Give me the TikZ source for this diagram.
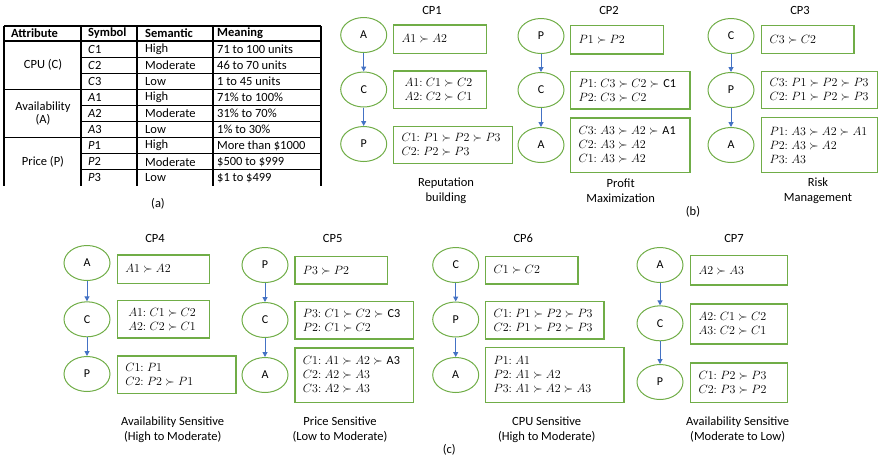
\documentclass[tikz,border=0pt]{standalone}
\usepackage{fontspec}
\setmainfont{Carlito}
\usetikzlibrary{shapes.geometric,arrows.meta}
\definecolor{gr}{HTML}{70AD47}
\definecolor{bl}{HTML}{4472C4}
\tikzset{
 ell/.style={ellipse,draw=gr,line width=1pt,minimum width=46pt,minimum height=35pt,inner sep=0pt,font=\fontsize{12}{14}\selectfont},
 cpbox/.style={draw=gr,line width=1.2pt,inner xsep=8pt,inner ysep=0pt,align=left,font=\fontsize{12.2}{14}\selectfont},
 arr/.style={draw=bl,line width=1pt,-{Triangle[length=5pt,width=5pt]}},
 ttl/.style={font=\fontsize{12.5}{14}\selectfont,inner sep=0pt},
 captxt/.style={font=\fontsize{12.5}{15}\selectfont,align=center,inner sep=0pt},
 tb/.style={font=\fontsize{12.5}{14}\selectfont,anchor=west,inner sep=0pt},
 tbc/.style={font=\fontsize{12.5}{12.5}\selectfont,align=center,inner sep=0pt},
 thick line/.style={line width=1.6pt},
 thin line/.style={line width=0.9pt}
}
\newcommand\cpb[6]{\pgfmathsetmacro\bw{#4-#2-16}\pgfmathsetmacro\bh{#5-#3}\node[cpbox,text width=\bw pt,minimum height=\bh pt,anchor=north west] (#1) at (#2,#3) {#6};}
\newcommand\pr[2]{$#1{:}\;#2$}
\begin{document}
\begin{tikzpicture}[x=1pt,y=-1pt]
\useasboundingbox (0,0) rectangle (878,459);
% ---------- table (a)
\foreach \x in {4,81,137,213,320.7} \draw[thick line] (\x,26) -- (\x,186);
\draw[thick line] (4,26) -- (320.7,26);
\draw[thick line] (4,41) -- (320.7,41);
\draw[thin line] (4,89.3) -- (320.7,89.3);
\draw[thin line] (4,137.6) -- (320.7,137.6);
\foreach \y in {57.1,73.2,105.4,121.5,153.7,169.8} \draw[thin line] (81,\y) -- (320.7,\y);
\node[tb] (h1) at (11,33.5) {\bfseries Attribute};
\node[tb] (h2) at (88,33.5) {\bfseries Symbol};
\node[tb] (h3) at (145,33.5) {\bfseries Semantic};
\node[tb] (h4) at (217,33.5) {\bfseries Meaning};
\node[tbc] (g1) at (43,65.15) {CPU (C)};
\node[tbc] (g2) at (43,113.6) {Availability\\(A)};
\node[tbc] (g3) at (43,161.75) {Price (P)};
\node[tb] (s1) at (88,49.05) {\textit{C}1};
\node[tb] (s2) at (88,65.15) {\textit{C}2};
\node[tb] (s3) at (88,81.25) {\textit{C}3};
\node[tb] (s4) at (88,97.35) {\textit{A}1};
\node[tb] (s5) at (88,113.45) {\textit{A}2};
\node[tb] (s6) at (88,129.55) {\textit{A}3};
\node[tb] (s7) at (88,145.65) {\textit{P}1};
\node[tb] (s8) at (88,161.75) {\textit{P}2};
\node[tb] (s9) at (88,177.85) {\textit{P}3};
\node[tb] (e1) at (145,49.05) {High};
\node[tb] (e2) at (145,65.15) {Moderate};
\node[tb] (e3) at (145,81.25) {Low};
\node[tb] (e4) at (145,97.35) {High};
\node[tb] (e5) at (145,113.45) {Moderate};
\node[tb] (e6) at (145,129.55) {Low};
\node[tb] (e7) at (145,145.65) {High};
\node[tb] (e8) at (145,161.75) {Moderate};
\node[tb] (e9) at (145,177.85) {Low};
\node[tb] (m1) at (217,49.05) {71 to 100 units};
\node[tb] (m2) at (217,65.15) {46 to 70 units};
\node[tb] (m3) at (217,81.25) {1 to 45 units};
\node[tb] (m4) at (217,97.35) {71\% to 100\%};
\node[tb] (m5) at (217,113.45) {31\% to 70\%};
\node[tb] (m6) at (217,129.55) {1\% to 30\%};
\node[tb] (m7) at (217,145.65) {More than \$1000};
\node[tb] (m8) at (217,161.75) {\$500 to \$999};
\node[tb] (m9) at (217,177.85) {\$1 to \$499};
\node[ttl] (la) at (158,203.3) {(a)};
% ---------- CP1
\node[ttl] (t1) at (432,10) {CP1};
\node[ell] (a1) at (363.7,35) {A};
\node[ell] (c1) at (363.7,89.5) {C};
\node[ell] (p1) at (363.7,144) {P};
\draw[arr] (a1) -- (c1);
\draw[arr] (c1) -- (p1);
\cpb{b11}{393}{24.3}{485.7}{52.7}{$A1 \succ A2$}
\cpb{b12}{393}{70.3}{485.7}{107.7}{\hspace*{3pt}\pr{A1}{C1 \succ C2}\\\hspace*{3pt}\pr{A2}{C2 \succ C1}}
\cpb{b13}{393}{125.7}{511.7}{162.7}{\pr{C1}{P1 \succ P2 \succ P3}\\\pr{C2}{P2 \succ P3}}
\node[captxt] (k1) at (446,190.5) {Reputation\\building};
% ---------- CP2
\node[ttl] (t2) at (609,10) {CP2};
\node[ell] (p2) at (541,36) {P};
\node[ell] (c2) at (541,90) {C};
\node[ell] (a2) at (541,145) {A};
\draw[arr] (p2) -- (c2);
\draw[arr] (c2) -- (a2);
\cpb{b21}{570}{25}{662.7}{53.3}{$P1 \succ P2$}
\cpb{b22}{570}{71}{689.3}{108.3}{\pr{P1}{C3 \succ C2 \succ} C1\\\pr{P2}{C3 \succ C2}}
\cpb{b23}{570}{117.3}{689.3}{171.7}{\pr{C3}{A3 \succ A2 \succ} A1\\\pr{C2}{A3 \succ A2}\\\pr{C1}{A3 \succ A2}}
\node[captxt] (k2) at (620.7,190.5) {Profit\\Maximization};
% ---------- CP3
\node[ttl] (t3) at (800,10) {CP3};
\node[ell] (c3) at (731,36) {C};
\node[ell] (p3) at (731,90) {P};
\node[ell] (a3) at (731,145) {A};
\draw[arr] (c3) -- (p3);
\draw[arr] (p3) -- (a3);
\cpb{b31}{761}{25}{853.3}{53}{$C3 \succ C2$}
\cpb{b32}{761}{71}{877.3}{108}{\pr{C3}{P1 \succ P2 \succ P3}\\\pr{C2}{P1 \succ P2 \succ P3}}
\cpb{b33}{761}{117}{877.3}{171.7}{\pr{P1}{A3 \succ A2 \succ A1}\\\pr{P2}{A3 \succ A2}\\\pr{P3}{A3}}
\node[captxt] (k3) at (818,190.5) {Risk\\Management};
\node[ttl] (lb) at (693,211.7) {(b)};
% ---------- CP4
\node[ttl] (t4) at (155,238.3) {CP4};
\node[ell] (a4) at (87,263) {A};
\node[ell] (c4) at (87,319.3) {C};
\node[ell] (p4) at (87,374) {P};
\draw[arr] (a4) -- (c4);
\draw[arr] (c4) -- (p4);
\cpb{b41}{116.7}{254.3}{209}{282.7}{$A1 \succ A2$}
\cpb{b42}{116.7}{300}{209}{337.3}{\hspace*{3pt}\pr{A1}{C1 \succ C2}\\\hspace*{3pt}\pr{A2}{C2 \succ C1}}
\cpb{b43}{116.7}{355.3}{235.3}{392.7}{\pr{C1}{P1}\\\pr{C2}{P2 \succ P1}}
\node[captxt] (k4) at (172.7,429.5) {Availability Sensitive\\(High to Moderate)};
% ---------- CP5
\node[ttl] (t5) at (332.7,238.3) {CP5};
\node[ell] (p5) at (265,265) {P};
\node[ell] (c5) at (265,320) {C};
\node[ell] (a5) at (265,375) {A};
\draw[arr] (p5) -- (c5);
\draw[arr] (c5) -- (a5);
\cpb{b51}{294.3}{256}{386.7}{283.3}{$P3 \succ P2$}
\cpb{b52}{294.3}{301}{412.7}{338.3}{\pr{P3}{C1 \succ C2 \succ} C3\\\pr{P2}{C1 \succ C2}}
\cpb{b53}{294.3}{347.3}{412.7}{401.7}{\pr{C1}{A1 \succ A2 \succ} A3\\\pr{C2}{A2 \succ A3}\\\pr{C3}{A2 \succ A3}}
\node[captxt] (k5) at (340,429.5) {Price Sensitive\\(Low to Moderate)};
% ---------- CP6
\node[ttl] (t6) at (523.3,238.3) {CP6};
\node[ell] (c6) at (455.7,265) {C};
\node[ell] (p6) at (455.7,319.5) {P};
\node[ell] (a6) at (455.7,375) {A};
\draw[arr] (c6) -- (p6);
\draw[arr] (p6) -- (a6);
\cpb{b61}{485}{255.7}{577.3}{283.3}{$C1 \succ C2$}
\cpb{b62}{485}{301}{603.3}{338.3}{\pr{C1}{P1 \succ P2 \succ P3}\\\pr{C2}{P1 \succ P2 \succ P3}}
\cpb{b63}{485}{347}{623.3}{401.7}{\pr{P1}{A1}\\\pr{P2}{A1 \succ A2}\\\pr{P3}{A1 \succ A2 \succ A3}}
\node[captxt] (k6) at (546.7,429.5) {CPU Sensitive\\(High to Moderate)};
\node[ttl] (lc) at (449.3,450) {(c)};
% ---------- CP7
\node[ttl] (t7) at (734,238.3) {CP7};
\node[ell] (a7) at (660,265) {A};
\node[ell] (c7) at (660,323.3) {C};
\node[ell] (p7) at (660,382) {P};
\draw[arr] (a7) -- (c7);
\draw[arr] (c7) -- (p7);
\cpb{b71}{690}{255}{786.7}{284.3}{$A2 \succ A3$}
\cpb{b72}{690}{303.3}{786.7}{343.3}{\pr{A2}{C1 \succ C2}\\\pr{A3}{C2 \succ C1}}
\cpb{b73}{690}{362.3}{786.7}{401.7}{\pr{C1}{P2 \succ P3}\\\pr{C2}{P3 \succ P2}}
\node[captxt] (k7) at (737.7,429.5) {Availability Sensitive\\(Moderate to Low)};
\end{tikzpicture}
\end{document}
